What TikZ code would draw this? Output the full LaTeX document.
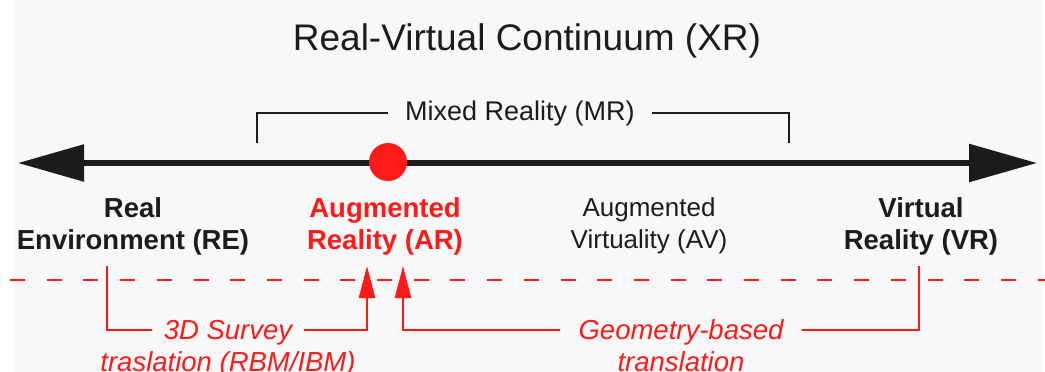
\documentclass[tikz,border=0pt]{standalone}
\usepackage{fontspec}
\setmainfont{Liberation Sans}
\usetikzlibrary{arrows.meta}
\definecolor{xrred}{RGB}{255,26,26}
\definecolor{xrink}{RGB}{28,28,28}
\definecolor{xrback}{RGB}{248,248,248}
\begin{document}
\begin{tikzpicture}[x=1pt,y=-1pt,
axislabel/.style={align=center,text=xrink,font=\fontsize{26}{32}\selectfont},
boldlabel/.style={axislabel,font=\fontsize{27.5}{32}\selectfont\bfseries},
italabel/.style={text=xrred,inner ysep=0pt,text height=19pt,text depth=0pt,font=\fontsize{27.5}{32}\selectfont\itshape},
redlink/.style={draw=xrred,line width=2.5pt},
redtip/.style={-{Triangle[length=32pt,width=16pt]}}]
\fill[xrback] (0,0) rectangle (1045,372);
\fill[white] (0,0) rectangle (15,372);
\fill[white] (1042,0) rectangle (1045,372);
\useasboundingbox (0,0) rectangle (1045,372);
% title
\node[anchor=base,text=xrink,font=\fontsize{37}{44}\selectfont] (title) at (527,50) {Real-Virtual Continuum (XR)};
% the axis
\coordinate (left) at (18,163);
\coordinate (right) at (1037,163);
\draw[xrink,line width=5.5pt,{Triangle[length=66pt,width=36pt]}-{Triangle[length=68pt,width=37pt]}] (left) -- (right);
\node[circle,fill=xrred,minimum size=38pt,inner sep=0pt] (ardot) at (388,162) {};
% mixed reality bracket
\node[anchor=base,text=xrink,inner xsep=17pt,font=\fontsize{27}{32}\selectfont] (mr) at (520,120) {Mixed Reality (MR)};
\coordinate (mrl) at (257,143);
\coordinate (mrr) at (789,143);
\draw[xrink,line width=2.5pt] (mrl) |- (mr.west) (mr.east) -| (mrr);
% labels on the axis
\node[boldlabel] (re) at (133,226) {Real\\Environment (RE)};
\node[boldlabel,text=xrred] (ar) at (385,226) {Augmented\\Reality (AR)};
\node[axislabel] (av) at (649,226) {Augmented\\Virtuality (AV)};
\node[boldlabel] (vr) at (921,226) {Virtual\\Reality (VR)};
% dashed line
\coordinate (dashl) at (0,280);
\coordinate (dashr) at (1045,280);
\draw[xrred,line width=1.5pt,dash pattern=on 15pt off 21.7pt,dash phase=26.7pt] (dashl) -- (dashr);
% translations
\coordinate (refoot) at (107,266);
\coordinate (artipl) at (367,266);
\coordinate (artipr) at (403,266);
\coordinate (vrfoot) at (919,266);
\node[italabel,inner xsep=12pt] (survey) at (228,330) {3D Survey};
\node[italabel] (surveyb) at (228,362) {traslation (RBM/IBM)};
\node[italabel,inner xsep=18pt] (geom) at (681,330) {Geometry-based};
\node[italabel] (geomb) at (681,362) {translation};
\draw[redlink] (refoot) |- (survey.west);
\draw[redlink,redtip] (survey.east) -| (artipl);
\draw[redlink,redtip] (geom.west) -| (artipr);
\draw[redlink] (geom.east) -| (vrfoot);
\end{tikzpicture}
\end{document}
